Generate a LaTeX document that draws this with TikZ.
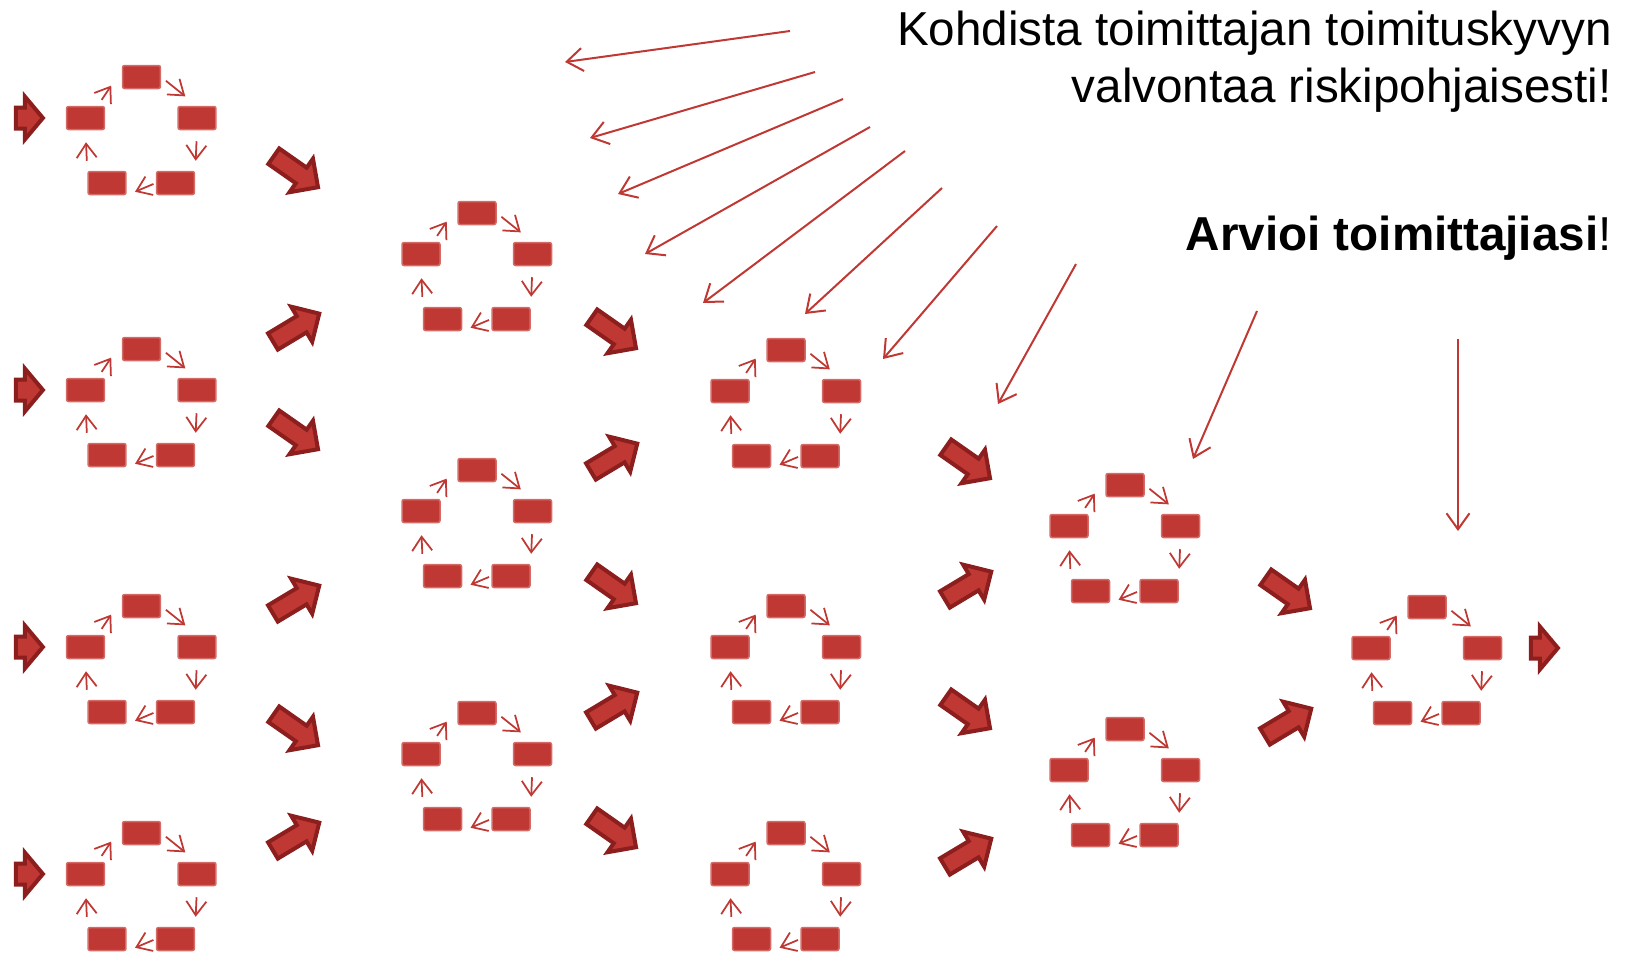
\documentclass[tikz,border=0pt]{standalone}
\usepackage{fontspec}
\setmainfont{Liberation Sans}
\usepackage[HTML]{xcolor}
\usetikzlibrary{positioning, arrows.meta, shapes.arrows}

\definecolor{boxred}{HTML}{BF3833}
\definecolor{edgered}{HTML}{D46B66}
\definecolor{darkred}{HTML}{8C1E1E}

\tikzset{
  box/.style={rectangle, rounded corners=0.04cm, fill=boxred, draw=edgered, line width=0.03cm,
    minimum width=0.76cm, minimum height=0.46cm, inner sep=0pt},
  cyc/.style={draw=boxred, line width=0.035cm, -{Straight Barb[length=0.28cm, width=0.4cm]}},
  fat/.style={single arrow, draw=darkred, fill=boxred, line width=0.08cm, inner xsep=0pt,
    inner ysep=0.15cm, minimum height=1.08cm, single arrow head extend=0.22cm},
  stub/.style={fat, inner ysep=0.17cm, minimum height=0.54cm, single arrow tip angle=100},
  pointer/.style={draw=boxred, line width=0.04cm, -{Straight Barb[length=0.32cm, width=0.46cm]}},
  say/.style={anchor=base east, inner sep=0pt, font=\fontsize{27.1}{32.4}\selectfont}
}

\begin{document}
\begin{tikzpicture}[x=0.02cm, y=-0.02cm]
\useasboundingbox (0,0) rectangle (1630,961);

% five boxes going round
\foreach \u/\x/\y in {a1/141.5/77, a2/141.5/349, a3/141.5/606, a4/141.5/833,
    b1/477/213, b2/477/470, b3/477/713,
    c1/786/350, c2/786/606, c3/786/833,
    d1/1125/485, d2/1125/729, e1/1427/607} {
  \node[box] (\u-t) at (\x,\y) {};
  \node[box] (\u-l) at (\x-56,\y+41) {};
  \node[box] (\u-r) at (\x+55.5,\y+41) {};
  \node[box] (\u-bl) at (\x-34.5,\y+106) {};
  \node[box] (\u-br) at (\x+34,\y+106) {};
  \draw[cyc, shorten <=0.2cm, shorten >=0.24cm] (\u-bl.north west) -- (\u-l.south);
  \draw[cyc, shorten <=0.14cm, shorten >=0.38cm] (\u-l.45) -- (\u-t.160);
  \draw[cyc, shorten <=0.12cm, shorten >=0.3cm] (\u-t.east) -- (\u-r.north);
  \draw[cyc, shorten <=0.22cm, shorten >=0.2cm] (\u-r.south) -- (\u-br.north east);
  \draw[cyc, shorten <=0.05cm, shorten >=0.18cm] (\u-br.west) -- (\u-bl.south east);
}

% big arrows between the columns
\foreach \n/\x/\y/\r in {p1/292/169/-35, p2/292/330/31, p3/292/431/-35, p4/292/602/31,
    p5/292/727/-35, p6/292/839/31,
    q1/610/330/-35, q2/610/460/31, q3/610/585/-35, q4/610/709/31, q5/610/829/-35,
    r1/964/460/-35, r2/964/588/31, r3/964/710/-35, r4/964/855/31,
    s1/1284/590/-35, s2/1284/725/31}
  \node[fat, rotate=\r] (\n) at (\x,\y) {};

\foreach \n/\y in {in1/118, in2/390, in3/647, in4/874}
  \node[stub] (\n) at (25,\y) {};
\node[stub] (out) at (1540,648) {};

% texts
\node[say] (kohd) at (1612,45) {Kohdista toimittajan toimituskyvyn};
\node[say] (valv) at (1612,102) {valvontaa riskipohjaisesti!};
\node[say] (arv) at (1612,250) {\textbf{Arvioi toimittajiasi}!};

% thin arrows from the texts
\foreach \i/\sx/\sy/\ex/\ey in {1/790/31/565/62, 2/815/72/590/138, 3/843/99/618/194,
    4/870/127/645/254, 5/905/151/703/303, 6/942/188/805/314, 7/997/226/883/359,
    8/1076/264/998/404, 9/1257/311/1193/459, 10/1458/339/1458/531} {
  \coordinate (f\i) at (\sx,\sy);
  \coordinate (g\i) at (\ex,\ey);
  \draw[pointer] (f\i) -- (g\i);
}
\end{tikzpicture}
\end{document}
